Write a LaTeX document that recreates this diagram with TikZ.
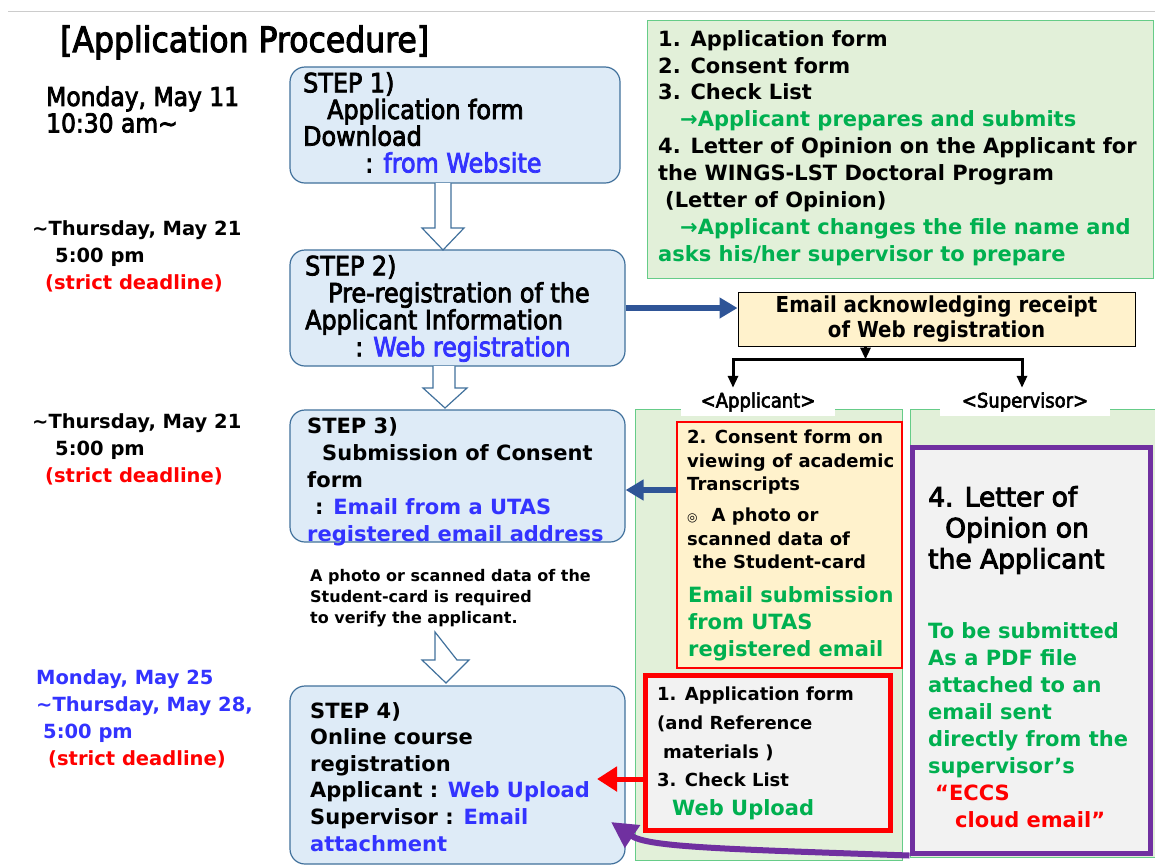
\documentclass[tikz,border=0pt]{standalone}
\usepackage{fontspec}
\setmainfont{DejaVu Sans}
\newfontfamily\condf{DejaVu Sans}[FakeStretch=0.9, FakeBold=3]
\newfontfamily\condb{DejaVu Sans}[FakeStretch=0.9]
\newfontfamily\medf{DejaVu Sans}[FakeBold=3.5]
\usepackage{tikz}
\usetikzlibrary{arrows.meta,calc}

\definecolor{stepfill}{RGB}{222,235,247}
\definecolor{stepedge}{RGB}{65,113,156}
\definecolor{panelfill}{RGB}{226,240,217}
\definecolor{paneledge}{RGB}{102,204,136}
\definecolor{notefill}{RGB}{255,242,204}
\definecolor{boxgray}{RGB}{242,242,242}
\definecolor{purp}{RGB}{112,48,160}
\definecolor{arrblue}{RGB}{47,85,151}
\definecolor{txtgreen}{RGB}{0,176,80}
\definecolor{txtblue}{RGB}{51,51,255}
\definecolor{txtred}{RGB}{255,0,0}

\begin{document}
\begin{tikzpicture}[x=1pt, y=-1pt,
    stepbox/.style={rectangle, draw=stepedge, line width=1.2pt, rounded corners=15pt, fill=stepfill, inner sep=0pt},
    panel/.style={rectangle, draw=paneledge, line width=1pt, fill=panelfill, inner sep=0pt},
    txt/.style={inner sep=0pt, anchor=north west, align=left},
    hollow/.style={draw=stepedge, line width=1.2pt, fill=white},
    bluearr/.style={-{Triangle[width=20pt,length=18pt]}, line width=6pt, arrblue},
    redarr/.style={-{Triangle[width=24pt,length=20pt]}, line width=5pt, txtred},
    purparr/.style={-{Triangle[width=26pt,length=26pt]}, line width=6pt, purp},
    fork/.style={-{Triangle[width=10pt,length=12pt]}, line width=3pt, black},
    tag/.style={fill=white, inner sep=0pt, minimum height=28, font=\condf\fontsize{20}{20}\selectfont}
]
\path[use as bounding box, fill=white] (0,0) rectangle (1155,865);
\draw[black!20, line width=1pt] (8,11) -- (1155,11);

% Title
\node[anchor=base west, inner sep=0pt, font=\condf\fontsize{35}{35}\selectfont] (title) at (60,52) {[Application Procedure]};

% Dates
\node[txt, font=\condf\fontsize{26}{26.5}\selectfont] (d1) at (46,86) {Monday, May 11\\10:30 am∼};
\node[txt, font=\bfseries\fontsize{19.5}{27}\selectfont] (d2) at (32,220) {∼Thursday, May 21\\\hspace*{23pt}5:00 pm\\\hspace*{13pt}\textcolor{txtred}{(strict deadline)}};
\node[txt, font=\bfseries\fontsize{19.5}{27}\selectfont] (d3) at (32,413) {∼Thursday, May 21\\\hspace*{23pt}5:00 pm\\\hspace*{13pt}\textcolor{txtred}{(strict deadline)}};
\node[txt, font=\bfseries\fontsize{19.5}{27}\selectfont] (d4) at (36,669) {\textcolor{txtblue}{Monday, May 25}\\\textcolor{txtblue}{∼Thursday, May 28,}\\\hspace*{7pt}\textcolor{txtblue}{5:00 pm}\\\hspace*{12pt}\textcolor{txtred}{(strict deadline)}};

% Steps
\node[stepbox, minimum width=330, minimum height=116] (s1) at (455,125) {};
\node[stepbox, minimum width=335, minimum height=116] (s2) at (457.5,308) {};
\node[stepbox, minimum width=335, minimum height=132] (s3) at (457.5,476) {};
\node[stepbox, minimum width=335, minimum height=178] (s4) at (457.5,775) {};

\node[txt, font=\condf\fontsize{26.5}{26.7}\selectfont] (s1t) at (303,72) {STEP 1)\\\hspace*{24pt}Application form\\Download\\\hspace*{62pt}: \textcolor{txtblue}{from Website}};
\node[txt, font=\condf\fontsize{26.5}{27}\selectfont] (s2t) at (305,255) {STEP 2)\\\hspace*{23pt}Pre-registration of the\\Applicant Information\\\hspace*{50pt}: \textcolor{txtblue}{Web registration}};
\node[txt, font=\bfseries\fontsize{21}{27}\selectfont] (s3t) at (307,417) {STEP 3)\\\hspace*{15pt}Submission of Consent\\form\\\hspace*{8pt}: \textcolor{txtblue}{Email from a UTAS}\\\textcolor{txtblue}{registered email address}};
\node[txt, font=\bfseries\fontsize{21}{26.6}\selectfont] (s4t) at (310,702) {STEP 4)\\Online course\\registration\\Applicant : \textcolor{txtblue}{Web Upload}\\Supervisor : \textcolor{txtblue}{Email}\\\textcolor{txtblue}{attachment}};

\node[txt, font=\bfseries\fontsize{16}{21}\selectfont] (note) at (310,569) {A photo or scanned data of the\\Student-card is required\\to verify the applicant.};

% Step arrows
\draw[hollow] (435,183) -- (435,228) -- (422,228) -- (443,250) -- (464,228) -- (451,228) -- (451,183);
\draw[hollow] (433,366) -- (433,388) -- (423,388) -- (445,408) -- (467,388) -- (455,388) -- (455,366);
\draw[hollow] (435,632) -- (435,660) -- (422,660) -- (446,683) -- (469,660) -- (457,660) -- cycle;

% Document list
\node[panel, minimum width=506, minimum height=258] (docs) at (900,149) {};
\node[txt, font=\bfseries\fontsize{21}{26.9}\selectfont] (docst) at (658,30) {1. Application form\\2. Consent form\\3. Check List\\\hspace*{22pt}\textcolor{txtgreen}{→Applicant prepares and submits}\\4. Letter of Opinion on the Applicant for\\the WINGS-LST Doctoral Program\\\hspace*{7pt}(Letter of Opinion)\\\hspace*{22pt}\textcolor{txtgreen}{→Applicant changes the file name and}\\\textcolor{txtgreen}{asks his/her supervisor to prepare}};

% Email receipt
\node[rectangle, draw=black, line width=1pt, fill=notefill, minimum width=397, minimum height=54, align=center, font=\condb\bfseries\fontsize{22}{25}\selectfont] (em) at (936.5,319) {Email acknowledging receipt\\of Web registration};

% Applicant / Supervisor panels
\node[panel, minimum width=267, minimum height=451] (pa) at (768.5,634.5) {};
\node[panel, minimum width=250, minimum height=448] (ps) at (1035,633) {};
\node[tag, minimum width=154] (la) at (758,402) {<Applicant>};
\node[tag, minimum width=170] (ls) at (1025,402) {<Supervisor>};

\draw[fork] ([xshift=-71pt]em.south) -- ++(0,13) coordinate (br);
\draw[fork] (br) -| ([xshift=-25pt]la.north);
\draw[fork] (br) -| ([xshift=-3pt]ls.north);

% Consent form
\node[rectangle, draw=txtred, line width=2pt, fill=notefill, minimum width=225, minimum height=246, inner sep=0pt] (yb) at (789.5,545) {};
\node[txt, font=\bfseries\fontsize{18}{23.5}\selectfont] (ybt) at (687,430) {2. Consent form on\\viewing of academic\\Transcripts\\[7.5pt]{\fontsize{12}{12}\selectfont ◎}\hspace*{14pt}A photo or\\scanned data of\\\hspace*{6pt}the Student-card};
\node[txt, font=\bfseries\fontsize{21}{27}\selectfont, text=txtgreen] (ybg) at (688,586) {Email submission\\from UTAS\\registered email};

% Web upload
\node[rectangle, draw=txtred, line width=5pt, fill=boxgray, minimum width=245, minimum height=155, inner sep=0pt] (rb) at (767.5,752.5) {};
\node[txt, font=\bfseries\fontsize{18}{28.7}\selectfont] (rbt) at (657,687) {1. Application form\\(and Reference\\\hspace*{6pt}materials )\\3. Check List\\\hspace*{15pt}\textcolor{txtgreen}{\fontsize{21}{21}\selectfont Web Upload}};

% Letter of opinion
\node[rectangle, draw=purp, line width=5pt, fill=boxgray, minimum width=238, minimum height=406, inner sep=0pt] (pu) at (1031,650) {};
\node[txt, font=\medf\fontsize{26.5}{31}\selectfont] (put) at (928,486) {4. Letter of\\\hspace*{17pt}Opinion on\\the Applicant};
\node[txt, font=\bfseries\fontsize{21}{27}\selectfont] (pug) at (928,622) {\textcolor{txtgreen}{To be submitted}\\\textcolor{txtgreen}{As a PDF file}\\\textcolor{txtgreen}{attached to an}\\\textcolor{txtgreen}{email sent}\\\textcolor{txtgreen}{directly from the}\\\textcolor{txtgreen}{supervisor’s}\\\hspace*{7pt}\textcolor{txtred}{“ECCS}\\\hspace*{27pt}\textcolor{txtred}{cloud email"}};

% Connectors
\coordinate (btip) at (628,490);
\coordinate (rtip) at (597,779);
\coordinate (ptip) at (611,822);
\draw[bluearr] (s2.east) -- (s2.east -| em.west);
\draw[bluearr] (yb.west |- btip) -- (s3.east |- btip);
\draw[redarr] (rb.west |- rtip) -- (rtip);
\draw[purparr] (pu.south west) .. controls (720,849) and (648,847) .. (ptip);

\end{tikzpicture}
\end{document}
